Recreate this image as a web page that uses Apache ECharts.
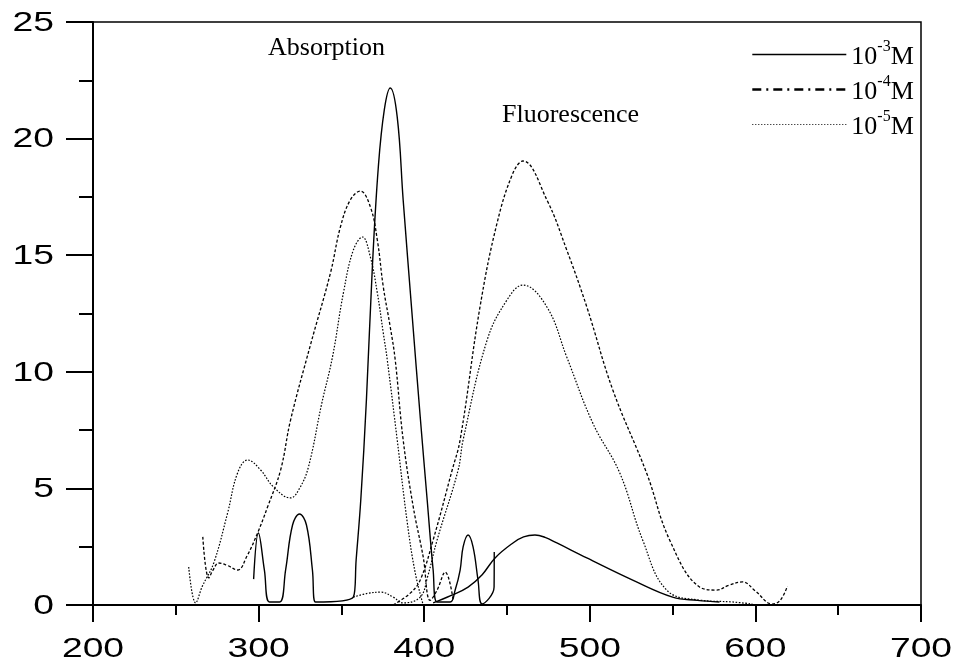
<!DOCTYPE html>
<html>
<head>
<meta charset="utf-8">
<script src="https://cdn.jsdelivr.net/npm/echarts@6/dist/echarts.min.js"></script>
<style>html,body{margin:0;padding:0;background:#fff;}#c{width:954px;height:666px;}</style>
</head>
<body>
<div id="c"></div>
<script>
// ---- data (wavelength nm, intensity) ----
const xTicks = [200, 300, 400, 500, 600, 700];
const yTicks = [0, 5, 10, 15, 20, 25];
const concentrations = ['-3', '-4', '-5'];

const abs1e3 = [[297.0,1.11],[299.9,3.09],[303.5,1.5],[306.6,0.13],[312.7,0.13],[316.3,1.5],[320.5,3.43],[324.7,3.9],[328.9,3.43],[332.5,1.5],[334.3,0.13],[357.2,0.34],[358.9,1.93],[361.7,4.5],[365.1,8.79],[368.7,14.49],[372.3,18.78],[375.9,21.23],[379.5,22.17],[383.7,20.93],[387.3,17.37],[392.8,12.35],[397.6,8.06],[401.8,4.5],[405.4,1.5],[407.8,0.13],[415.7,0.13],[418.7,0.64],[421.7,1.5],[423.5,2.49],[426.5,3.0],[429.5,2.49],[432.5,1.07],[434.9,0.05],[442.2,0.77],[442.3,2.27]];
const fl1e3 = [[405.4,0.09],[416,0.4],[426.5,0.77],[435,1.3],[442.8,2.02],[453.6,2.66],[460,2.92],[466.9,3.0],[473,2.9],[480.1,2.66],[498.2,2.02],[525.9,1.07],[550,0.34],[565,0.2],[578.3,0.13]];

const abs1e4 = [[266.3,2.92],[269.9,1.16],[272.5,1.5],[275.9,1.8],[281,1.7],[287.3,1.5],[293,2.1],[299.4,3.09],[305.4,4.2],[313.3,5.79],[319.3,7.93],[331.3,11.15],[343.4,14.24],[349.4,16.21],[355.4,17.37],[361.4,17.75],[367.5,17.07],[371.7,15.65],[375.3,13.64],[379.5,11.92],[382.5,10.51],[387.3,7.08],[393.4,4.2],[399.4,2.06],[403.6,0.2],[407.8,0.64],[412.7,1.41],[417.5,0.21]];
const fl1e4 = [[381.3,0.0],[391.6,0.51],[397.6,1.07],[405.4,2.79],[416.9,5.79],[421.7,7.08],[433.7,12.78],[444.0,16.38],[453.6,18.52],[459.6,19.04],[474.1,17.37],[486.1,15.22],[498.2,12.78],[513.9,9.22],[534.3,5.66],[548.2,2.79],[566.3,0.77],[576.5,0.64],[584,0.85],[592.2,0.99],[600,0.6],[610.2,0.04],[615,0.2],[619.3,0.81]];

const abs1e5 = [[257.8,1.63],[262.0,0.09],[266,0.8],[272.9,1.8],[281.3,3.95],[287.3,5.66],[293.4,6.22],[301.2,5.79],[309.0,5.06],[319.3,4.59],[324.7,5.0],[330.1,5.92],[338,8.6],[344.6,10.63],[351.2,13.38],[357.2,15.22],[362.7,15.78],[367.5,14.92],[371.7,13.38],[375.3,11.66],[377.7,10.51],[383.7,7.08],[389.8,3.52],[394.6,1.37],[399.4,0.0]];
const fl1e5 = [[357.2,0.34],[366,0.5],[374,0.55],[381,0.35],[387.3,0.09],[397.6,0.34],[402,1.2],[407.8,2.79],[420.5,5.79],[423.5,7.08],[438.0,11.36],[450.0,13.08],[459.6,13.72],[474.1,12.78],[486.1,10.63],[501.8,7.8],[518.1,5.66],[531.9,2.79],[546.4,0.64],[566.3,0.21],[586.1,0.13],[598.2,0.04]];

const labelAbs = 'Absorption';
const labelFl = 'Fluorescence';

// ---- chart ----
const styles = {
  '-3': {type: 'solid', width: 1.4},
  '-4': {type: [3, 2], width: 1.3},
  '-5': {type: [1.6, 1.6], width: 1.2}
};
const legendStyles = {
  '-3': {type: 'solid', width: 1.5},
  '-4': {type: [9, 5, 2, 5], width: 2.6},
  '-5': {type: [1, 2], width: 1}
};
function mk(name, data) {
  return {
    name: name, type: 'line', data: data, showSymbol: false, symbol: 'none',
    smooth: 0.4, clip: true,
    lineStyle: Object.assign({color: '#000'}, styles[name]),
    itemStyle: {color: '#000'}
  };
}
const series = [
  mk('-3', abs1e3), mk('-3', fl1e3),
  mk('-4', abs1e4), mk('-4', fl1e4),
  mk('-5', abs1e5), mk('-5', fl1e5)
];

const axisCommon = {
  axisLine: {show: true, onZero: false, lineStyle: {color: '#000', width: 2}},
  splitLine: {show: false},
  minorTick: {show: true, splitNumber: 2, lineStyle: {color: '#000', width: 2}},
  axisTick: {show: true, inside: false, lineStyle: {color: '#000', width: 2}},
  axisLabel: {show: false}
};

const chart = echarts.init(document.getElementById('c'), null, {renderer: 'canvas'});
const textEls = [
  {type: 'text', left: 268, top: 35, style: {text: labelAbs, font: '26px "Liberation Serif"', fill: '#000'}},
  {type: 'text', left: 502, top: 102, style: {text: labelFl, font: '26px "Liberation Serif"', fill: '#000'}}
];
chart.setOption({
  animation: false,
  backgroundColor: '#fff',
  grid: {left: 93, right: 33, top: 22, bottom: 61, show: true, borderColor: '#000', borderWidth: 1.5, backgroundColor: 'transparent'},
  xAxis: Object.assign({}, axisCommon, {
    type: 'value', min: xTicks[0], max: xTicks[xTicks.length - 1], interval: 100,
    axisTick: Object.assign({}, axisCommon.axisTick, {length: 17}),
    minorTick: Object.assign({}, axisCommon.minorTick, {length: 10})
  }),
  yAxis: Object.assign({}, axisCommon, {
    type: 'value', min: yTicks[0], max: yTicks[yTicks.length - 1], interval: 5,
    axisTick: Object.assign({}, axisCommon.axisTick, {length: 27}),
    minorTick: Object.assign({}, axisCommon.minorTick, {length: 14})
  }),
  legend: {
    orient: 'vertical', left: 746, top: 34, itemWidth: 94, itemHeight: 14, itemGap: 4,
    selectedMode: false,
    data: concentrations.map(c => ({name: c, lineStyle: Object.assign({color: '#000'}, legendStyles[c]), itemStyle: {color: 'rgba(0,0,0,0)', borderWidth: 0, opacity: 0}})),
    formatter: function (n) { return '{n|10}{s|' + n + '}{n|M}'; },
    textStyle: {
      color: '#000',
      rich: {
        n: {fontFamily: 'Liberation Serif', fontSize: 26, lineHeight: 31, color: '#000', verticalAlign: 'bottom'},
        s: {fontFamily: 'Liberation Serif', fontSize: 16, lineHeight: 31, color: '#000', verticalAlign: 'top'}
      }
    }
  },
  graphic: textEls,
  series: series
});

// tick labels: real text placed through the axis scales, widened like the original font
const tickFont = '28px "Liberation Sans"';
const tickEls = [];
xTicks.forEach(v => {
  const p = chart.convertToPixel({xAxisIndex: 0, yAxisIndex: 0}, [v, yTicks[0]]);
  tickEls.push({type: 'text', x: p[0], y: p[1] + 44, scaleX: 1.33,
    style: {text: String(v), font: tickFont, fill: '#000', align: 'center', verticalAlign: 'middle'}});
});
yTicks.forEach(v => {
  const p = chart.convertToPixel({xAxisIndex: 0, yAxisIndex: 0}, [xTicks[0], v]);
  tickEls.push({type: 'text', x: p[0] - 39, y: p[1] + 1, scaleX: 1.33,
    style: {text: String(v), font: tickFont, fill: '#000', align: 'right', verticalAlign: 'middle'}});
});
chart.setOption({graphic: textEls.concat(tickEls)});
</script>
</body>
</html>
